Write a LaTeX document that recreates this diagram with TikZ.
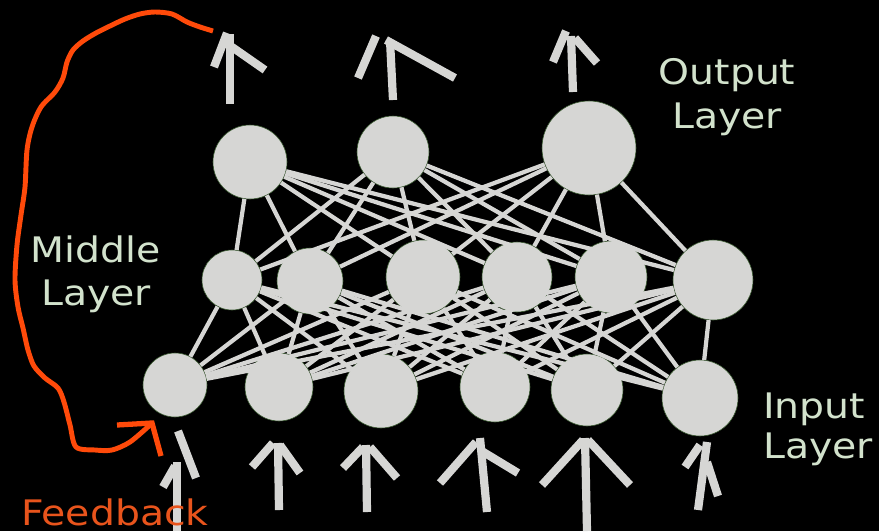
\documentclass[tikz,border=0pt]{standalone}
\usepackage{fontspec}
\usepackage{tikz}
\newfontfamily\labelfont[FakeStretch=1.12]{DejaVu Sans}
\definecolor{cellgray}{HTML}{D6D6D4}
\definecolor{rimgreen}{HTML}{3A5A30}
\definecolor{textgreen}{HTML}{D2E2CC}
\definecolor{fbred}{HTML}{FF4A0A}
\definecolor{fbtext}{HTML}{E8541C}
\tikzset{
  neuron/.style={circle,fill=cellgray,draw=rimgreen,line width=0.5pt,inner sep=0pt,minimum size=#1*0.6mm},
  link/.style={draw=cellgray,line width=3.6pt},
  handarrow/.style={draw=cellgray,line width=7pt},
  layertext/.style={text=textgreen,anchor=base,inner sep=0pt,font=\labelfont\fontsize{30}{36}\selectfont}
}

\begin{document}
\begin{tikzpicture}[x=0.3mm,y=-0.3mm]
\useasboundingbox (0,0) rectangle (879,531);
\fill[black] (0,0) rectangle (879,531);
% ---- layers of neurons: name/x/y/radius ----
\foreach \n/\x/\y/\r in {1/250/162/37, 2/393/152/36, 3/589/148/47}
  \node[neuron=\r] (out\n) at (\x,\y) {};
\foreach \n/\x/\y/\r in {1/232/280/30, 2/310/281/33, 3/423/277/37, 4/517/277/35, 5/611/277/36, 6/713/280/40}
  \node[neuron=\r] (mid\n) at (\x,\y) {};
\foreach \n/\x/\y/\r in {1/175/385/32, 2/279/387/34, 3/381/391/37, 4/495/387/35, 5/587/390/36, 6/700/398/38}
  \node[neuron=\r] (in\n) at (\x,\y) {};
% ---- full connections between neighbouring layers ----
\foreach \i in {1,...,6}
  \foreach \j in {1,...,6}
    \draw[link] (in\i) -- (mid\j);
\foreach \j in {1,...,6}
  \foreach \k in {1,2,3}
    \draw[link] (mid\j) -- (out\k);
% ---- hand drawn arrows, outputs ----
\draw[handarrow] (230,104) -- (230,34);
\draw[handarrow] (227,33) -- (214,67);
\draw[handarrow] (232,47) -- (265,70);
\draw[handarrow] (393,100) -- (390,40);
\draw[handarrow] (376,36) -- (358,78);
\draw[handarrow] (386,40) -- (455,78);
\draw[handarrow] (573,92) -- (571,36);
\draw[handarrow] (566,31) -- (553,62);
\draw[handarrow] (575,38) -- (597,63);
% ---- hand drawn arrows, inputs ----
\draw[handarrow] (177,531) -- (177,462);
\draw[handarrow] (178,431) -- (196,478);
\draw[handarrow] (175,466) -- (163,487);
\draw[handarrow] (278,443) -- (279,510);
\draw[handarrow] (273,443) -- (252,467);
\draw[handarrow] (280,445) -- (300,473);
\draw[handarrow] (366,445) -- (367,512);
\draw[handarrow] (363,447) -- (343,468);
\draw[handarrow] (370,447) -- (397,478);
\draw[handarrow] (480,438) -- (487,512);
\draw[handarrow] (476,442) -- (440,483);
\draw[handarrow] (480,450) -- (518,473);
\draw[handarrow] (585,438) -- (587,531);
\draw[handarrow] (583,440) -- (542,485);
\draw[handarrow] (588,440) -- (630,485);
\draw[handarrow] (707,442) -- (698,510);
\draw[handarrow] (700,445) -- (685,467);
\draw[handarrow] (707,462) -- (718,496);
% ---- feedback loop ----
\draw[fbred,line width=4.2pt,line join=round] plot[smooth,tension=0.5] coordinates {(213,31) (200,27) (187,22) (172,14) (155,12) (140,14) (125,19) (110,26) (96,33) (83,41) (73,50) (67,62) (63,78) (55,92) (41,107) (32,127) (27,150) (25,187) (21,215) (17,245) (15,280) (18,307) (23,328) (28,350) (34,366) (45,378) (58,388) (64,402) (70,425) (76,447) (95,450) (112,450) (130,442) (150,425)};
\draw[fbred,line width=4.5pt] (117,425) -- (152,423) -- (161,456);
% ---- labels ----
\node[layertext] (outtop) at (727,84) {Output};
\node[layertext] (outbot) at (727,128) {Layer};
\node[layertext] (midtop) at (96,262) {Middle};
\node[layertext] (midbot) at (96,305) {Layer};
\node[layertext] (intop) at (814,418) {Input};
\node[layertext] (inbot) at (818,458) {Layer};
\node[layertext,text=fbtext] (fbtxt) at (115,525) {Feedback};
\end{tikzpicture}
\end{document}
